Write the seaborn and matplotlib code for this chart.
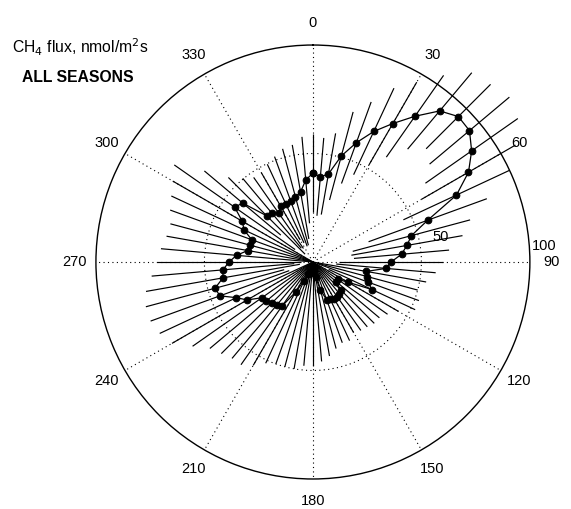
import numpy as np
import pandas as pd
import matplotlib
matplotlib.use("Agg")
import matplotlib.pyplot as plt
import seaborn as sns

# direction (degrees, clockwise from north)
directions = list(range(0, 360, 5))
# mean CH4 flux per direction
flux_mean = [41, 39.4, 41.2, 50.6, 58.5, 66.4, 73.7, 82, 90.9, 94.8, 94.2, 89.3,
             82.8, 73, 56.3, 47, 44, 41, 36, 33.8, 25, 26, 27, 30,
             18.5, 14, 14, 18, 19, 19.5, 19.6, 19, 18.6, 13.3, 7, 4,
             4, 4, 5, 5, 6, 9.5, 16, 24.8, 26, 26.7, 28, 28.7,
             35, 38.9, 45.6, 46.7, 42.1, 41.6, 38.7, 35.3, 30.5, 30, 30, 35,
             37.6, 44, 42.3, 30.1, 29.3, 27.6, 29.7, 29.7, 29.7, 31, 32.8, 37.9]
# spread (half-length of bar) per direction
flux_err = [18, 18, 19, 21, 20, 22, 22, 23, 23, 21, 24, 26,
            25, 27, 29, 28, 26, 22, 24, 23, 28, 24, 25, 22,
            27, 28, 26, 22, 20, 19, 18, 21, 21, 28, 37, 42,
            44, 44, 45, 45, 44, 42, 39, 33, 32, 33, 34, 39,
            40, 39, 34, 33, 36, 33, 33, 35, 38, 38, 40, 37,
            37, 34, 23, 25, 21, 20, 18, 20, 22, 23, 22, 20]
theta_ticks = list(range(0, 360, 30))
r_labels = [50, 100]

df = pd.DataFrame({"dir": directions, "mean": flux_mean, "err": flux_err})
df["theta"] = np.deg2rad(df["dir"])
df["lo"] = (df["mean"] - df["err"]).clip(lower=0)
df["hi"] = df["mean"] + df["err"]
closed = pd.concat([df, df.iloc[[0]]], ignore_index=True)

sns.set_style("white")
plt.rcParams['font.family'] = ['Liberation Sans', 'DejaVu Sans']
plt.rcParams['text.color'] = 'black'
plt.rcParams['xtick.color'] = 'black'
plt.rcParams['ytick.color'] = 'black'

fig = plt.figure(figsize=(5.71, 5.09), dpi=100)
ax = fig.add_axes([0.168, 0.0589, 0.760, 0.8527], projection="polar")
ax.set_theta_zero_location("N")
ax.set_theta_direction(-1)
ax.set_ylim(0, 100)

# radial bars
ax.vlines(df["theta"], df["lo"], df["hi"], colors="black", linewidth=0.85,
          clip_on=False, zorder=3)

# mean curve
sns.lineplot(data=closed, x="theta", y="mean", sort=False, estimator=None,
             color="black", linewidth=0.9, marker="o", markersize=4.8,
             markeredgecolor="black", markerfacecolor="black", ax=ax, zorder=4,
             legend=False)
for l in ax.lines:
    l.set_clip_on(False)

ax.set_xlabel("")
ax.set_ylabel("")
ax.set_thetagrids(theta_ticks, [str(t) for t in theta_ticks], fontsize=10.5, color="black")
ax.tick_params(axis="x", pad=5)
ax.set_yticks([50])
ax.set_yticklabels([])
ax.grid(True, color="black", linestyle=(0, (1, 3)), linewidth=0.8)
ax.spines["polar"].set_color("black")
ax.spines["polar"].set_linewidth(1.0)

for rv, ang, rr in zip(r_labels, [79, 86], [60, 107]):
    ax.text(np.deg2rad(ang), rr, str(rv), fontsize=10.5, ha="center", va="center", color="black")

fig.text(12 / 571, 1 - 47 / 509, r"CH$_4$ flux, nmol/m$^2$s", fontsize=11.3,
         ha="left", va="center", color="black")
fig.text(22 / 571, 1 - 78 / 509, "ALL SEASONS", fontsize=11.3, fontweight="bold",
         ha="left", va="center", color="black")

fig.savefig("out.png", dpi=100)
